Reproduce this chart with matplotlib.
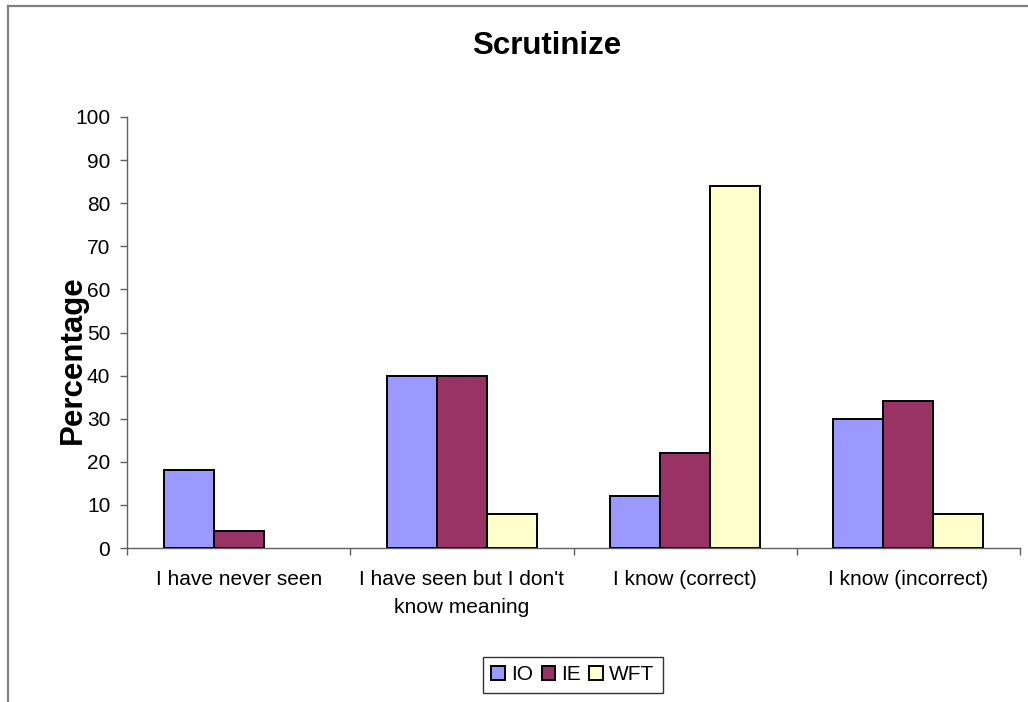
import matplotlib
matplotlib.use("Agg")
import matplotlib.pyplot as plt
import numpy as np
from matplotlib.lines import Line2D
from matplotlib.patches import Patch

plt.rcParams['font.family'] = ['Liberation Sans', 'DejaVu Sans']

categories = ["I have never seen", "I have seen but I don't\nknow meaning",
              "I know (correct)", "I know (incorrect)"]
series_names = ["IO", "IE", "WFT"]
io_values = [18, 40, 12, 30]
ie_values = [4, 40, 22, 34]
wft_values = [0, 8, 84, 8]
colors = ["#9999FF", "#993366", "#FFFFCC"]
yticks = [0, 10, 20, 30, 40, 50, 60, 70, 80, 90, 100]

W, H = 1028, 702
fig = plt.figure(figsize=(W / 100, H / 100), dpi=100)
ax = fig.add_axes([127 / W, 1 - 548 / H, (1020 - 127) / W, (548 - 117) / H])

x = np.arange(len(categories))
bw = 0.224
for i, (vals, name, col) in enumerate(zip([io_values, ie_values, wft_values], series_names, colors)):
    bars = ax.bar(x + (i - 1) * bw, vals, width=bw, color=col, edgecolor="black",
                  linewidth=1.4, label=name, zorder=3)
    # empty bars leave no outline on the axis
    for b, v in zip(bars, vals):
        if v == 0:
            b.set_linewidth(0)

ax.set_xlim(-0.5, len(categories) - 0.5)
ax.set_ylim(0, 100)
ax.set_yticks(yticks)
ax.tick_params(axis="y", labelsize=15, length=5, width=1, color="#606060", pad=7)

# category boundaries get tick marks, category centres get the labels
ax.set_xticks(np.arange(-0.5, len(categories), 1.0))
ax.set_xticklabels([])
ax.set_xticks(x, minor=True)
ax.set_xticklabels(categories, minor=True, fontsize=15, linespacing=1.6)
ax.tick_params(axis="x", which="major", length=5, width=1, color="#606060")
ax.tick_params(axis="x", which="minor", length=0, pad=16)

for side in ("top", "right"):
    ax.spines[side].set_visible(False)
for side in ("left", "bottom"):
    ax.spines[side].set_color("#606060")
    ax.spines[side].set_linewidth(1.0)

fig.text(546.5 / W, 1 - 46 / H, "Scrutinize", fontsize=22.5, fontweight="bold",
         ha="center", va="center")
fig.text(73 / W, 1 - 360 / H, "Percentage", fontsize=22.5, fontweight="bold",
         ha="center", va="center", rotation=90)

handles = [Patch(facecolor=c, edgecolor="black", linewidth=1.4) for c in colors]
leg = fig.legend(handles, series_names, loc="center",
                 bbox_to_anchor=(573 / W, 1 - 675 / H), ncol=3,
                 fontsize=15, frameon=True, fancybox=False, edgecolor="black",
                 handlelength=0.65, handleheight=0.65, handletextpad=0.3,
                 columnspacing=0.4, borderpad=0.4, borderaxespad=0)
leg.get_frame().set_linewidth(1.0)

# outer chart border (left and top edges)
fig.add_artist(Line2D([8 / W, 8 / W], [0, 1 - 6 / H], transform=fig.transFigure,
                      color="#808080", linewidth=1.6))
fig.add_artist(Line2D([8 / W, 1], [1 - 6 / H, 1 - 6 / H], transform=fig.transFigure,
                      color="#808080", linewidth=1.6))

fig.savefig("out.png", dpi=100)
